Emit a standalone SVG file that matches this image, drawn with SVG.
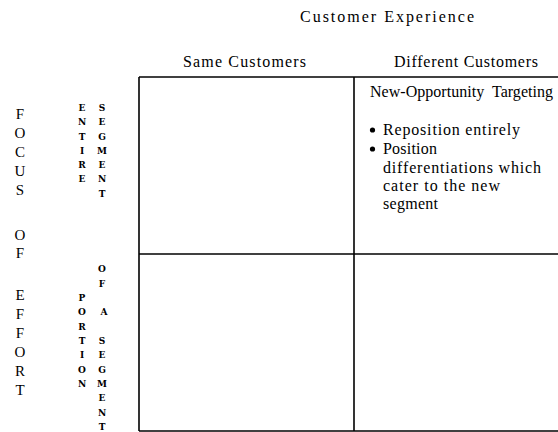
<svg xmlns="http://www.w3.org/2000/svg" width="558" height="432" viewBox="0 0 558 432">
<style>
.t{font-family:"Liberation Serif","Times New Roman",serif;font-size:16px;fill:#000}
.big{font-family:"Liberation Serif","Times New Roman",serif;font-size:15px;fill:#000;text-anchor:middle}
.sm{font-family:"DejaVu Serif","Liberation Serif",serif;font-size:10px;font-weight:bold;font-stretch:condensed;fill:#000;text-anchor:middle}
.ln{stroke:#000;stroke-width:1.6;fill:none}
.dot{fill:#000}
</style>
<rect width="558" height="432" fill="#fff"/>
<g id="header-customer-experience"><text class="t" x="300" y="22" textLength="174" lengthAdjust="spacing">Customer Experience</text></g>
<g id="header-same"><text class="t" x="183" y="67" textLength="123" lengthAdjust="spacing">Same Customers</text></g>
<g id="header-different"><text class="t" x="394" y="67" textLength="144" lengthAdjust="spacing">Different Customers</text></g>
<g id="focus-of-effort">
<text class="big" x="20" y="119">F</text>
<text class="big" x="20" y="138">O</text>
<text class="big" x="20" y="157">C</text>
<text class="big" x="20" y="176">U</text>
<text class="big" x="20" y="195">S</text>
<text class="big" x="20" y="240">O</text>
<text class="big" x="20" y="258">F</text>
<text class="big" x="20" y="300">E</text>
<text class="big" x="20" y="319">F</text>
<text class="big" x="20" y="338">F</text>
<text class="big" x="20" y="357">O</text>
<text class="big" x="20" y="376">R</text>
<text class="big" x="20" y="395">T</text>
</g>
<g id="entire-segment">
<text class="sm" x="82" y="111">E</text>
<text class="sm" x="82" y="125">N</text>
<text class="sm" x="82" y="140">T</text>
<text class="sm" x="82" y="154">I</text>
<text class="sm" x="82" y="168">R</text>
<text class="sm" x="82" y="182">E</text>
<text class="sm" x="102" y="111">S</text>
<text class="sm" x="102" y="125">E</text>
<text class="sm" x="102" y="140">G</text>
<text class="sm" x="102" y="154">M</text>
<text class="sm" x="102" y="168">E</text>
<text class="sm" x="102" y="182">N</text>
<text class="sm" x="102" y="197">T</text>
</g>
<g id="portion-of-a-segment">
<text class="sm" x="82" y="301">P</text>
<text class="sm" x="82" y="315">O</text>
<text class="sm" x="82" y="330">R</text>
<text class="sm" x="82" y="344">T</text>
<text class="sm" x="82" y="358">I</text>
<text class="sm" x="82" y="373">O</text>
<text class="sm" x="82" y="387">N</text>
<text class="sm" x="102" y="272">O</text>
<text class="sm" x="102" y="287">F</text>
<text class="sm" x="104" y="315">A</text>
<text class="sm" x="102" y="344">S</text>
<text class="sm" x="102" y="358">E</text>
<text class="sm" x="102" y="373">G</text>
<text class="sm" x="102" y="387">M</text>
<text class="sm" x="102" y="401">E</text>
<text class="sm" x="102" y="416">N</text>
<text class="sm" x="102" y="430">T</text>
</g>
<g id="grid">
<line class="ln" x1="139" y1="77" x2="558" y2="77"/>
<line class="ln" x1="139" y1="254" x2="558" y2="254"/>
<line class="ln" x1="139" y1="431" x2="558" y2="431"/>
<line class="ln" x1="139" y1="77" x2="139" y2="431"/>
<line class="ln" x1="354" y1="77" x2="354" y2="431"/>
</g>
<g id="cell-same-entire"/>
<g id="cell-different-entire">
<text class="t" x="370" y="97" textLength="183" lengthAdjust="spacing" xml:space="preserve">New-Opportunity  Targeting</text>
<circle class="dot" cx="372.5" cy="130" r="2.6"/>
<text class="t" x="383" y="135" textLength="137" lengthAdjust="spacing">Reposition entirely</text>
<circle class="dot" cx="372.5" cy="149" r="2.6"/>
<text class="t" x="383" y="154" textLength="54" lengthAdjust="spacing">Position</text>
<text class="t" x="383" y="173" textLength="158" lengthAdjust="spacing">differentiations which</text>
<text class="t" x="383" y="191" textLength="117" lengthAdjust="spacing">cater to the new</text>
<text class="t" x="383" y="209" textLength="55" lengthAdjust="spacing">segment</text>
</g>
<g id="cell-same-portion"/>
<g id="cell-different-portion"/>
</svg>
